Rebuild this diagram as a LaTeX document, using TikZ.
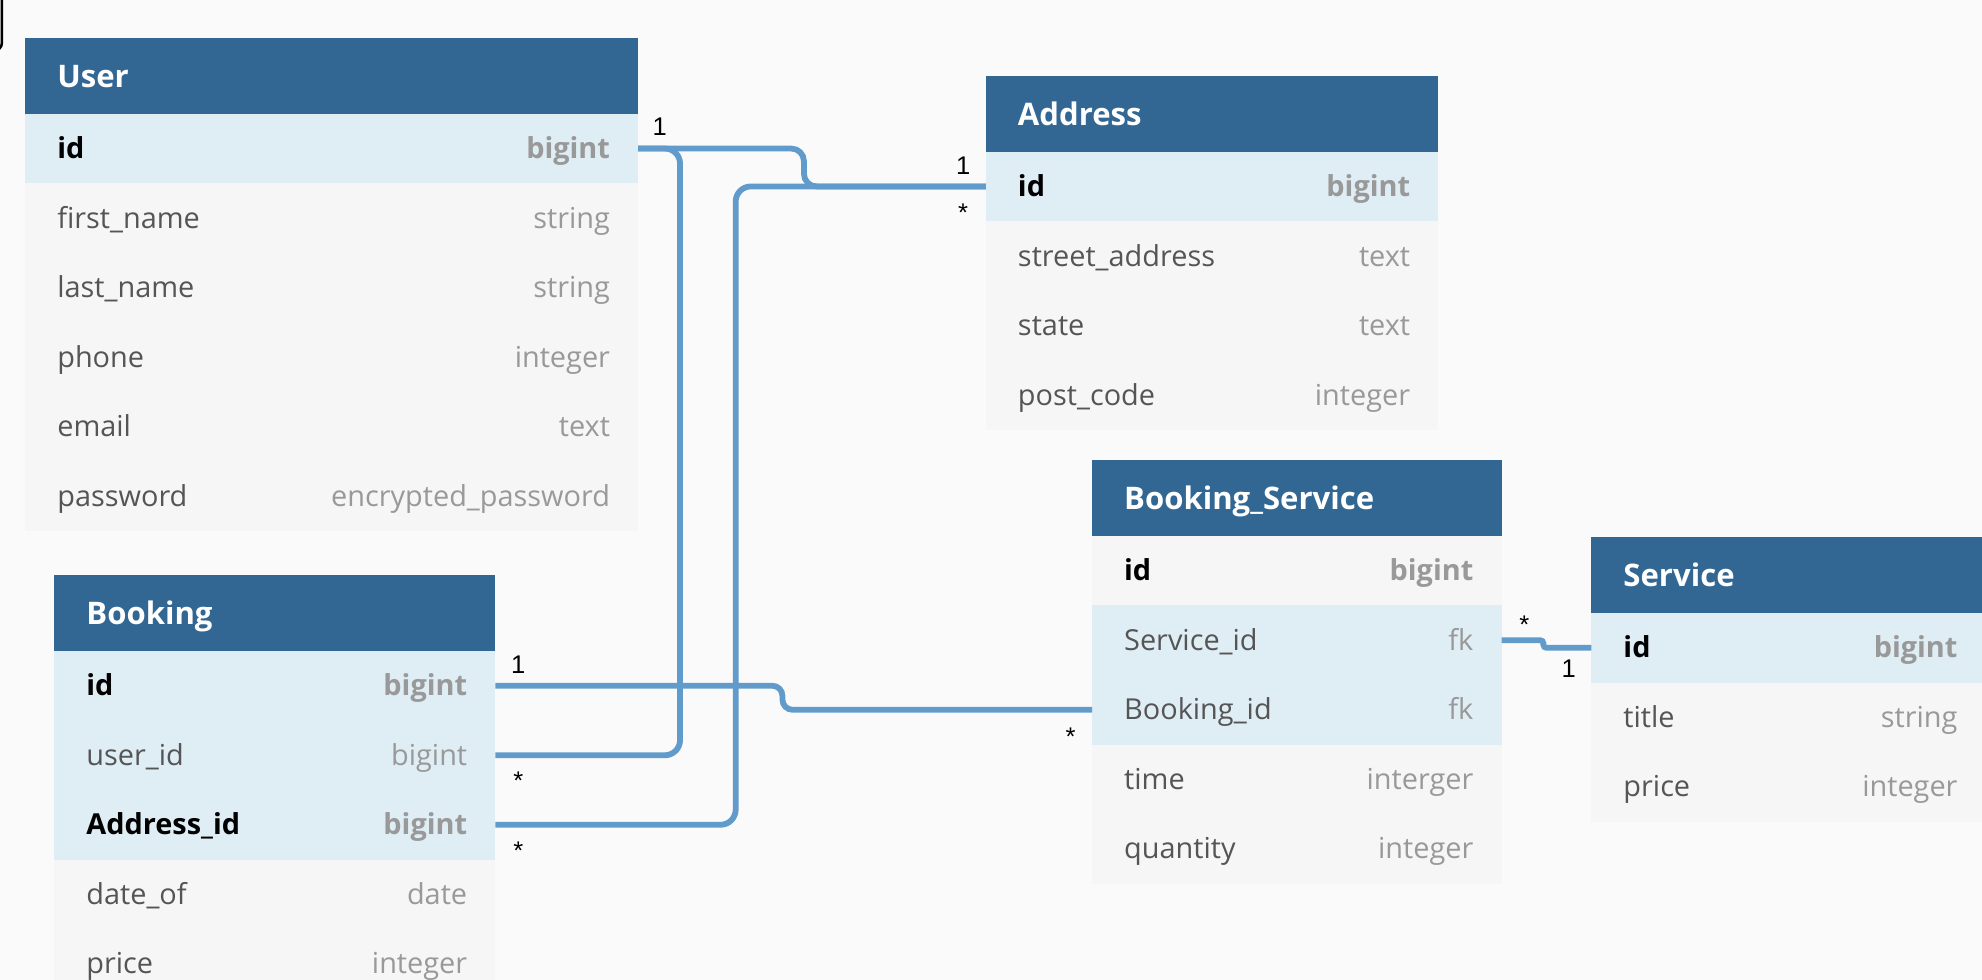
\documentclass[tikz,border=0pt]{standalone}
\usepackage{fontspec}
\setmainfont{Open Sans}
\newfontfamily\cardfont{Liberation Sans}
\usetikzlibrary{positioning}

\definecolor{pagebg}{RGB}{250,250,250}
\definecolor{headblue}{RGB}{50,103,148}
\definecolor{keyblue}{RGB}{223,237,245}
\definecolor{rowgray}{RGB}{246,246,246}
\definecolor{namegray}{RGB}{85,85,85}
\definecolor{typegray}{RGB}{153,153,153}
\definecolor{relblue}{RGB}{97,155,204}

\newcommand{\fieldfont}{\fontsize{13}{15}\selectfont}

\tikzset{
  head/.style={fill=headblue, anchor=north west, inner sep=0, outer sep=0, minimum height=1.2cm},
  keyrow/.style={fill=keyblue, anchor=north west, inner sep=0, outer sep=0, minimum height=1.1cm},
  plainrow/.style={fill=rowgray, anchor=north west, inner sep=0, outer sep=0, minimum height=1.1cm},
  title/.style={anchor=base west, xshift=0.5cm, yshift=-0.18cm, inner sep=0, text=white, font=\fontsize{14}{16}\selectfont\bfseries},
  namen/.style={anchor=base west, xshift=0.5cm, yshift=-0.16cm, inner sep=0, text=namegray, font=\fieldfont},
  nameb/.style={anchor=base west, xshift=0.5cm, yshift=-0.16cm, inner sep=0, text=black, font=\fieldfont\bfseries},
  typen/.style={anchor=base east, xshift=-0.44cm, yshift=-0.16cm, inner sep=0, text=typegray, font=\fieldfont},
  typeb/.style={anchor=base east, xshift=-0.44cm, yshift=-0.16cm, inner sep=0, text=typegray, font=\fieldfont\bfseries},
  rel/.style={draw=relblue, line width=0.092cm, rounded corners=0.24cm},
  card/.style={inner sep=0, font=\cardfont\fontsize{11.5}{13}\selectfont}
}

\begin{document}
\begin{tikzpicture}[x=0.02cm, y=-0.02cm]
\useasboundingbox (0,0) rectangle (1568,775);
\clip (0,0) rectangle (1568,775);
\fill[pagebg] (0,0) rectangle (1568,775);
\draw[black, line width=0.04cm, rounded corners=0.12cm] (1.5,-5) -- (1.5,40) -- (-6,40);

% User
\node[head, minimum width=9.7cm] (user) at (20,30) {};
\node[title] (user-title) at (user.west) {User};
\foreach \fname/\ftype/\bg/\wt [count=\i] in {id/bigint/keyrow/b, first\_name/string/plainrow/n, last\_name/string/plainrow/n, phone/integer/plainrow/n, email/text/plainrow/n, password/encrypted\_password/plainrow/n} {%
    \node[\bg, minimum width=9.7cm] (user\i) at ({20},{90+55*(\i-1)}) {};
    \node[name\wt] (user\i-name) at (user\i.west) {\fname};
    \node[type\wt] (user\i-type) at (user\i.east) {\ftype};
}

% Address
\node[head, minimum width=7.16cm] (address) at (780,60) {};
\node[title] (address-title) at (address.west) {Address};
\foreach \fname/\ftype/\bg/\wt [count=\i] in {id/bigint/keyrow/b, street\_address/text/plainrow/n, state/text/plainrow/n, post\_code/integer/plainrow/n} {%
    \node[\bg, minimum width=7.16cm] (address\i) at ({780},{120+55*(\i-1)}) {};
    \node[name\wt] (address\i-name) at (address\i.west) {\fname};
    \node[type\wt] (address\i-type) at (address\i.east) {\ftype};
}

% Booking
\node[head, minimum width=6.98cm] (booking) at (43,455) {};
\node[title] (booking-title) at (booking.west) {Booking};
\foreach \fname/\ftype/\bg/\wt [count=\i] in {id/bigint/keyrow/b, user\_id/bigint/keyrow/n, Address\_id/bigint/keyrow/b, date\_of/date/plainrow/n, price/integer/plainrow/n} {%
    \node[\bg, minimum width=6.98cm] (booking\i) at ({43},{515+55*(\i-1)}) {};
    \node[name\wt] (booking\i-name) at (booking\i.west) {\fname};
    \node[type\wt] (booking\i-type) at (booking\i.east) {\ftype};
}

% Booking_Service
\node[head, minimum width=6.48cm] (bs) at (864,364) {};
\node[title] (bs-title) at (bs.west) {Booking\_Service};
\foreach \fname/\ftype/\bg/\wt [count=\i] in {id/bigint/plainrow/b, Service\_id/fk/keyrow/n, Booking\_id/fk/keyrow/n, time/interger/plainrow/n, quantity/integer/plainrow/n} {%
    \node[\bg, minimum width=6.48cm] (bs\i) at ({864},{424+55*(\i-1)}) {};
    \node[name\wt] (bs\i-name) at (bs\i.west) {\fname};
    \node[type\wt] (bs\i-type) at (bs\i.east) {\ftype};
}

% Service
\node[head, minimum width=6.24cm] (service) at (1259,425) {};
\node[title] (service-title) at (service.west) {Service};
\foreach \fname/\ftype/\bg/\wt [count=\i] in {id/bigint/keyrow/b, title/string/plainrow/n, price/integer/plainrow/n} {%
    \node[\bg, minimum width=6.24cm] (service\i) at ({1259},{485+55*(\i-1)}) {};
    \node[name\wt] (service\i-name) at (service\i.west) {\fname};
    \node[type\wt] (service\i-type) at (service\i.east) {\ftype};
}

% relations
\coordinate (uvert) at (538,0);
\coordinate (avert) at (582,0);
\coordinate (ujog) at (636,0);
\coordinate (bjog) at (619,0);
\coordinate (sjog) at (1221,0);

\draw[rel] (user1.east) -| (booking2.east -| uvert) -- (booking2.east);
\draw[rel, rounded corners=0.2cm] (user1.east) -| (address1.west -| ujog) -- (address1.west);
\draw[rel] (booking3.east) -| (address1.west -| avert) -- (address1.west);
\draw[rel, rounded corners=0.16cm] (booking1.east) -| (bs3.west -| bjog) -- (bs3.west);
\draw[rel, rounded corners=0.05cm] (bs2.east) -| (service1.west -| sjog) -- (service1.west);

\node[card] (c-user) at (522,100) {1};
\node[card] (c-address1) at (762,131) {1};
\node[card] (c-address2) at (762,168) {*};
\node[card] (c-booking1) at (410,526) {1};
\node[card] (c-booking2) at (410,618) {*};
\node[card] (c-booking3) at (410,673) {*};
\node[card] (c-bs3) at (847,583) {*};
\node[card] (c-bs2) at (1206,494) {*};
\node[card] (c-service) at (1241,529) {1};
\end{tikzpicture}
\end{document}
